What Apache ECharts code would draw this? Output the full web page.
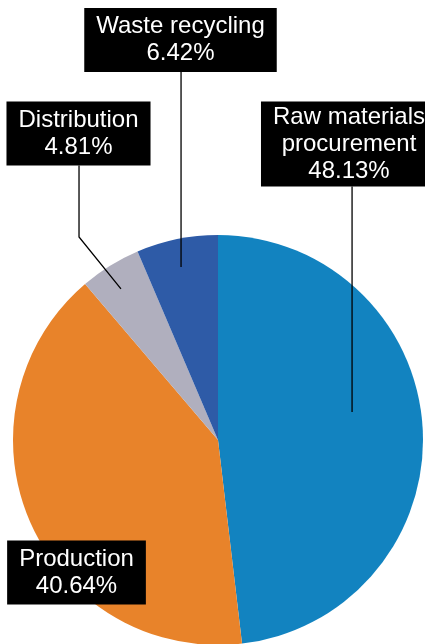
<!DOCTYPE html>
<html>
<head>
<meta charset="utf-8">
<script src="https://cdn.jsdelivr.net/npm/echarts@6/dist/echarts.min.js"></script>
<style>
  html, body { margin: 0; padding: 0; background: #ffffff; }
  #chart { width: 425px; height: 644px; }
</style>
</head>
<body>
<div id="chart"></div>
<script>
// Life-cycle stage shares (%)
const categories = ['Raw materials\nprocurement', 'Production', 'Distribution', 'Waste recycling'];
const shares = [48.13, 40.64, 4.81, 6.42];
const colors = ['#1283c0', '#e8832a', '#b0afbe', '#2e5ba7'];

// Pie geometry (px)
const CX = 218, CY = 440, R = 205;

// Callout box styling
const FONT_SIZE = 24, LINE_H = 27;
const boxPadV = [2, 5, 5, 5];
// Centre of each callout box (px)
const labelBoxes = [[349, 144], [76.5, 572.5], [78.5, 133.5], [180.5, 40]];
// Leader path points: [angle offset from slice mid-angle (deg), radius factor];
// the line then runs straight up to the bottom of the callout box.
const leaderPaths = [[[8.4, 0.668]], null, [[0.94, 0.876], [2.63, 1.2]], [[0.5, 0.863]]];

const total = shares.reduce((a, b) => a + b, 0);
const midAngles = [];
let acc = 0;
shares.forEach(v => {
  midAngles.push(90 - (acc + v / 2) / total * 360);
  acc += v;
});

function polar(i, off, rf) {
  const a = (midAngles[i] + off) * Math.PI / 180;
  return [CX + rf * R * Math.cos(a), CY - rf * R * Math.sin(a)];
}

// Leader lines drawn on top of the sectors
const leaders = [];
categories.forEach((name, i) => {
  const path = leaderPaths[i];
  if (!path) return;
  const nLines = name.split('\n').length + 1;
  const boxBottom = labelBoxes[i][1] + (nLines * LINE_H + 2 * boxPadV[i]) / 2;
  const pts = path.map(([off, rf]) => polar(i, off, rf));
  const last = pts[pts.length - 1];
  pts.push([last[0], boxBottom]);
  leaders.push({
    type: 'polyline',
    z: 100,
    silent: true,
    shape: { points: pts },
    style: { stroke: '#000000', lineWidth: 1.3, fill: null }
  });
});

const chart = echarts.init(document.getElementById('chart'), null, { renderer: 'canvas' });

chart.setOption({
  animation: false,
  backgroundColor: '#ffffff',
  graphic: leaders,
  series: [{
    type: 'pie',
    center: [CX, CY],
    radius: [0, R],
    startAngle: 90,
    clockwise: true,
    avoidLabelOverlap: false,
    silent: true,
    z: 2,
    itemStyle: { borderWidth: 0 },
    emphasis: { disabled: true },
    label: {
      show: true,
      position: 'outside',
      formatter: p => p.name + '\n' + p.value.toFixed(2) + '%',
      color: '#ffffff',
      backgroundColor: '#000000',
      fontFamily: '"Liberation Sans", Arial, sans-serif',
      fontSize: FONT_SIZE,
      lineHeight: LINE_H,
      align: 'center'
    },
    labelLine: { show: false },
    labelLayout: params => {
      const [bx, by] = labelBoxes[params.dataIndex];
      return { x: bx, y: by, align: 'center', verticalAlign: 'middle' };
    },
    data: categories.map((name, i) => ({
      name: name,
      value: shares[i],
      itemStyle: { color: colors[i] },
      label: { padding: [boxPadV[i], 12] }
    }))
  }]
});
</script>
</body>
</html>
